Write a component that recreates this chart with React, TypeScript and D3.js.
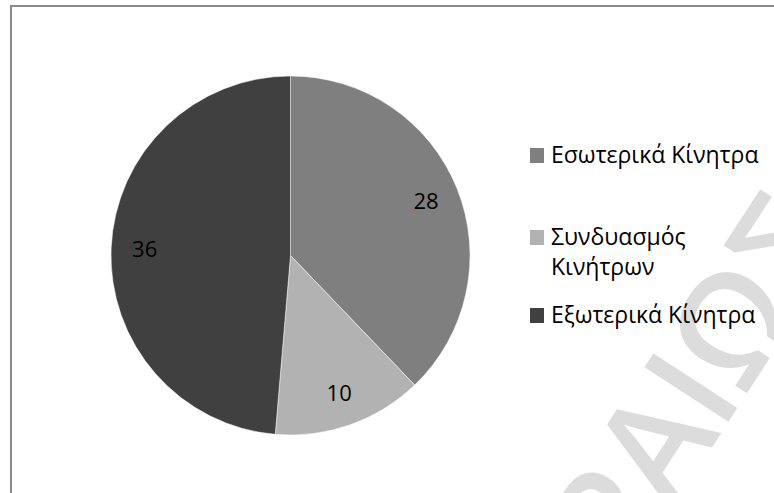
import React from "react";
import * as d3 from "d3";

const categories = ["Εσωτερικά Κίνητρα", "Συνδυασμός Κινήτρων", "Εξωτερικά Κίνητρα"];
const values = [28, 10, 36];
const colors = ["#7f7f7f", "#b2b2b2", "#404040"];
const legendLines = [["Εσωτερικά Κίνητρα"], ["Συνδυασμός", "Κινήτρων"], ["Εξωτερικά Κίνητρα"]];
const watermark = "ΠΕΙΡΑΙΩΣ";

const W = 774;
const H = 493;
const cx = 290.5;
const cy = 255.5;
const R = 179.5;
const labelR = 146;
const font = "'Open Sans', 'Noto Sans', sans-serif";

export default function App() {
  const pie = d3.pie<number>().value((d) => d).sort(null).startAngle(0);
  const arcs = pie(values);
  const arc = d3.arc<d3.PieArcDatum<number>>().innerRadius(0).outerRadius(R);
  const labelArc = d3.arc<d3.PieArcDatum<number>>().innerRadius(labelR).outerRadius(labelR);

  const legendBaselines = [163, 245, 323];
  const lineH = 30;

  return (
    <svg width={W} height={H} style={{ position: "absolute", left: 0, top: 0, background: "#fff" }}>
      <rect x={0} y={0} width={W} height={H} fill="#fff" />
      <g transform="translate(764,182) rotate(-57)">
        <text x={0} y={0} textAnchor="end" fontFamily={font} fontSize={140} fontWeight={600} fill="#dcdcdc" dy="0.72em">
          {watermark}
        </text>
      </g>
      <path d={`M11,${H + 5} V6 H${W + 5}`} fill="none" stroke="#8a8a8a" strokeWidth={2} />
      <g transform={`translate(${cx},${cy})`}>
        {arcs.map((a, i) => (
          <path key={i} d={arc(a) || ""} fill={colors[i]} stroke="#ffffff" strokeWidth={0.5} />
        ))}
        {arcs.map((a, i) => {
          const [x, y] = labelArc.centroid(a);
          return (
            <text key={i} x={x} y={y} dy="0.36em" textAnchor="middle" fontFamily={font} fontSize={22} fill="#000">
              {values[i]}
            </text>
          );
        })}
      </g>
      {categories.map((c, i) => (
        <g key={c}>
          <rect x={530} y={legendBaselines[i] - 15} width={14} height={15} fill={colors[i]} />
          {legendLines[i].map((ln, j) => (
            <text key={j} x={551} y={legendBaselines[i] + j * lineH} fontFamily={font} fontSize={23} fill="#000">
              {ln}
            </text>
          ))}
        </g>
      ))}
    </svg>
  );
}
